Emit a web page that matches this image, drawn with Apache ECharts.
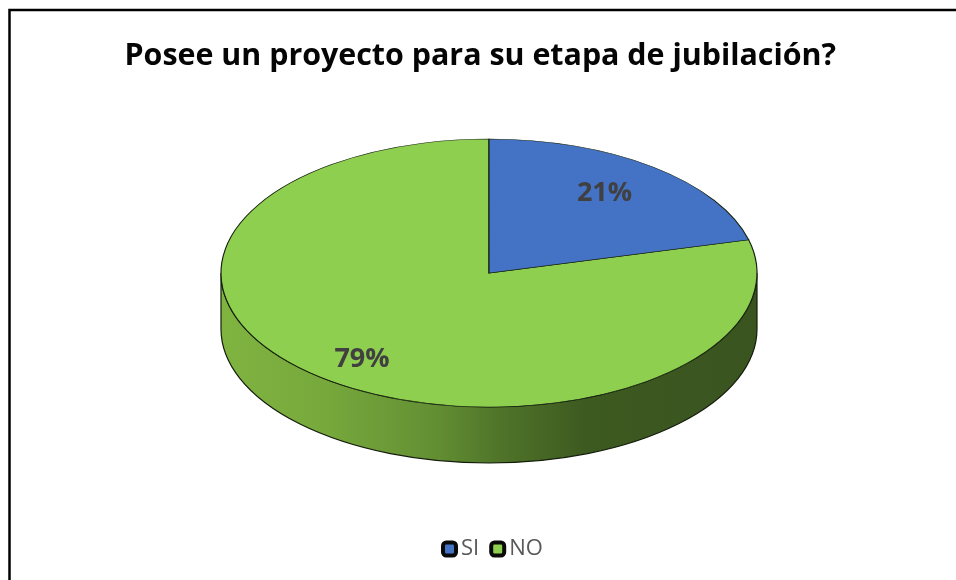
<!DOCTYPE html>
<html>
<head>
<meta charset="utf-8">
<style>html,body{margin:0;padding:0;background:#fff}#chart{width:956px;height:580px}</style>
<script src="https://cdn.jsdelivr.net/npm/echarts@6/dist/echarts.min.js"></script>
</head>
<body>
<div id="chart"></div>
<script>
// Survey answers and their slice colours
const categories = ['SI', 'NO'];
const seriesValues = [21, 79];
const sliceColors = ['#4472C4', '#8FCF4F'];
const chartTitle = 'Posee un proyecto para su etapa de jubilación?';

// Tilted disc geometry
const CX = 489, CY = 273, RX = 268, RY = 134, DEPTH = 56;
const labelCentres = [[604.5, 193], [362, 359]];
const FONT = '"Open Sans", "Noto Sans", sans-serif';

const total = seriesValues.reduce((a, b) => a + b, 0);
const tilt = RY / RX;
const startAt = -Math.PI / 2;

// Start and end angle of a slice, clockwise from twelve o'clock
function sliceAngles(i) {
  const before = seriesValues.slice(0, i).reduce((a, b) => a + b, 0);
  return [startAt + before / total * Math.PI * 2,
          startAt + (before + seriesValues[i]) / total * Math.PI * 2];
}

// Rim of the disc: the lower half ellipse extruded downward
function rimPath() {
  return `M${CX - RX} ${CY} A${RX} ${RY} 0 0 0 ${CX + RX} ${CY} ` +
         `L${CX + RX} ${CY + DEPTH} A${RX} ${RY} 0 0 1 ${CX - RX} ${CY + DEPTH} Z`;
}

const rimGradient = new echarts.graphic.LinearGradient(0, 0, 1, 0, [
  { offset: 0, color: '#80B440' },
  { offset: 0.2, color: '#76A83C' },
  { offset: 0.4, color: '#638F33' },
  { offset: 0.52, color: '#4F7429' },
  { offset: 0.68, color: '#3D5A20' },
  { offset: 1, color: '#3A5420' }
]);

function renderSlice(params, api) {
  const i = api.value(0);
  const [a0, a1] = sliceAngles(i);
  const children = [];
  if (i === 0) {
    children.push({
      type: 'path',
      shape: { pathData: rimPath(), layout: 'cover',
               x: CX - RX, y: CY, width: RX * 2, height: RY + DEPTH },
      style: { fill: rimGradient, stroke: '#141d0c', lineWidth: 1.2 },
      z2: 1
    });
  }
  children.push({
    type: 'sector',
    originX: CX, originY: CY, scaleY: tilt,
    shape: { cx: CX, cy: CY, r0: 0, r: RX, startAngle: a0, endAngle: a1, clockwise: true },
    style: { fill: sliceColors[i], stroke: '#16220f', lineWidth: 1.2, strokeNoScale: true },
    z2: i === 0 ? 3 : 2
  });
  // Percentage label placed on the slice
  children.push({
    type: 'text',
    x: labelCentres[i][0], y: labelCentres[i][1],
    style: { text: seriesValues[i] + '%', font: '700 27px ' + FONT, fill: '#404040',
             align: 'center', verticalAlign: 'middle' },
    z2: 5
  });
  return { type: 'group', children };
}

const chart = echarts.init(document.getElementById('chart'), null, { renderer: 'canvas' });
chart.setOption({
  animation: false,
  backgroundColor: '#fff',
  title: {
    text: chartTitle, left: 124.5, top: 41, padding: 0,
    textStyle: { fontFamily: FONT, fontSize: 30.4, fontWeight: 700, color: '#050505' }
  },
  legend: {
    left: 441, top: 538, padding: 0, itemWidth: 13, itemHeight: 13, itemGap: 10, icon: 'roundRect',
    data: categories,
    textStyle: { fontFamily: FONT, fontSize: 22, color: '#595959' },
    itemStyle: { borderColor: '#0a0a0a', borderWidth: 4 }
  },
  xAxis: { show: false }, yAxis: { show: false },
  // Frame: only the top and left edges are drawn inside the canvas
  graphic: [{
    type: 'polyline', silent: true, z: -1,
    shape: { points: [[9.5, 590], [9.5, 10], [970, 10]] },
    style: { fill: 'none', stroke: '#000', lineWidth: 2.5 }
  }],
  series: categories.map((name, k) => ({
    name, type: 'custom', coordinateSystem: 'none',
    color: sliceColors[k],
    renderItem: renderSlice,
    data: [[k, seriesValues[k]]],
    silent: true
  }))
});
</script>
</body>
</html>
